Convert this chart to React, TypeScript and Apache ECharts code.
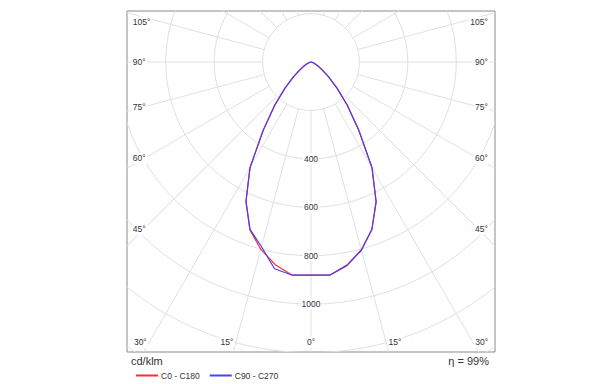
import React, { useEffect, useRef } from "react";
import * as echarts from "echarts";

// Photometric data (cd/klm), gamma angle in degrees from nadir
const gammaAngles = [0, 5, 10, 15, 20, 25, 30, 35, 40, 45, 50, 55, 60, 65, 70, 75, 80, 85, 90];
const c0Values = [880, 884, 852, 803, 735, 637, 505, 345, 235, 152, 95, 57, 35, 22, 14, 8, 4, 2, 0];
const c180Values = [880, 884, 850, 801, 738, 636, 505, 345, 235, 152, 95, 57, 35, 22, 14, 8, 4, 2, 0];
const c90Values = [880, 884, 854, 805, 736, 636, 503, 344, 233, 151, 94, 56, 34, 21, 13, 8, 4, 2, 0];
const c270Values = [880, 884, 867, 790, 736, 635, 503, 344, 233, 151, 94, 56, 34, 21, 13, 8, 4, 2, 0];

const seriesNames = ["C0 - C180", "C90 - C270"];

// Grid definitions
const ringValues = [200, 400, 600, 800, 1000, 1200, 1400];
const ringLabelValues = [400, 600, 800, 1000];
const spokeAngles = Array.from({ length: 24 }, (_, i) => i * 15);
const sideLabelAngles = [105, 90, 75, 60, 45];
const bottomLabelAngles = [30, 15, 0];

const unitLabel = "cd/klm";
const efficiencyLabel = "η = 99%";

const FONT = '"Liberation Sans", Arial, sans-serif';
const RED = "#ff2e2e";
const BLUE = "#4b3ff0";
const GRID_COLOR = "#e0e0e0";
const TEXT_COLOR = "#333333";

const rad = (d: number) => (d * Math.PI) / 180;

function curvePoints(left: number[], right: number[]) {
  const pts: number[][] = [];
  for (let i = gammaAngles.length - 1; i >= 0; i--) {
    const g = rad(gammaAngles[i]);
    pts.push([-left[i] * Math.sin(g), -left[i] * Math.cos(g)]);
  }
  for (let i = 1; i < gammaAngles.length; i++) {
    const g = rad(gammaAngles[i]);
    pts.push([right[i] * Math.sin(g), -right[i] * Math.cos(g)]);
  }
  return pts;
}

type Lbl = { value: number[]; text: string; align: string; dx: number };

function buildLabels(): Lbl[] {
  const out: Lbl[] = [];
  ringLabelValues.forEach((v) => out.push({ value: [0, -v], text: String(v), align: "center", dx: 0 }));
  const sideRefX = 690;
  const leftTextX = 740;
  const rightTextX = 735;
  const maxY = 165;
  sideLabelAngles.forEach((a) => {
    const g = rad(a);
    let y = (-sideRefX * Math.cos(g)) / Math.sin(g);
    y = Math.min(y, maxY);
    out.push({ value: [-leftTextX, y], text: a + "°", align: "left", dx: 0 });
    out.push({ value: [rightTextX, y], text: a + "°", align: "right", dx: 0 });
  });
  const bottomY = -1157;
  bottomLabelAngles.forEach((a) => {
    const x = -bottomY * Math.tan(rad(a));
    if (a === 0) {
      out.push({ value: [0, bottomY], text: a + "°", align: "center", dx: 0 });
    } else {
      out.push({ value: [-x, bottomY], text: a + "°", align: "right", dx: -1.5 });
      out.push({ value: [x, bottomY], text: a + "°", align: "left", dx: 1.5 });
    }
  });
  return out;
}

export default function App() {
  const ref = useRef<HTMLDivElement>(null);
  useEffect(() => {
    if (!ref.current) return;
    const chart = echarts.init(ref.current, null, { renderer: "svg" });
    const labels = buildLabels();
    const option: any = {
      animation: false,
      backgroundColor: "#ffffff",
      grid: {
        left: 127,
        right: 94,
        top: 11,
        bottom: 32,
        show: true,
        borderColor: "#8a8a8a",
        borderWidth: 1,
        backgroundColor: "#ffffff",
      },
      xAxis: { type: "value", min: -760, max: 760, show: false },
      yAxis: { type: "value", min: -1198, max: 211, show: false },
      legend: {
        data: seriesNames,
        left: 131,
        top: 366,
        icon: "rect",
        itemWidth: 22,
        itemHeight: 2,
        itemGap: 10,
        textStyle: { fontSize: 8.5, color: TEXT_COLOR, fontFamily: FONT, padding: [0, 0, 0, -2] },
      },
      graphic: [
        {
          type: "text",
          x: 131,
          y: 361,
          style: { text: unitLabel, fill: TEXT_COLOR, font: `11px ${FONT}`, align: "left", verticalAlign: "middle" },
        },
        {
          type: "text",
          x: 489,
          y: 361,
          style: { text: efficiencyLabel, fill: TEXT_COLOR, font: `11px ${FONT}`, align: "right", verticalAlign: "middle" },
        },
      ],
      series: [
        {
          type: "custom",
          clip: true,
          silent: true,
          z: 1,
          data: ringValues.map((v) => [0, 0, v]),
          renderItem: (_p: any, api: any) => {
            const c = api.coord([0, 0]);
            const r = api.size([api.value(2), 0])[0];
            return {
              type: "circle",
              shape: { cx: c[0], cy: c[1], r },
              style: { fill: "none", stroke: GRID_COLOR, lineWidth: 1 },
            };
          },
        },
        {
          type: "custom",
          clip: true,
          silent: true,
          z: 1,
          data: spokeAngles.map((a) => [0, 0, a]),
          renderItem: (_p: any, api: any) => {
            const g = rad(api.value(2));
            const p1 = api.coord([200 * Math.sin(g), -200 * Math.cos(g)]);
            const p2 = api.coord([3000 * Math.sin(g), -3000 * Math.cos(g)]);
            return {
              type: "line",
              shape: { x1: p1[0], y1: p1[1], x2: p2[0], y2: p2[1] },
              style: { stroke: GRID_COLOR, lineWidth: 1 },
            };
          },
        },
        {
          name: seriesNames[0],
          type: "line",
          data: curvePoints(c180Values, c0Values),
          showSymbol: false,
          symbol: "none",
          color: RED,
          lineStyle: { color: RED, width: 1.2 },
          z: 3,
        },
        {
          name: seriesNames[1],
          type: "line",
          data: curvePoints(c270Values, c90Values),
          showSymbol: false,
          symbol: "none",
          color: BLUE,
          lineStyle: { color: BLUE, width: 1.2 },
          z: 4,
        },
        {
          type: "custom",
          clip: false,
          silent: true,
          z: 5,
          data: labels.map((l) => l.value),
          renderItem: (p: any, api: any) => {
            const l = labels[p.dataIndex];
            const pt = api.coord([api.value(0), api.value(1)]);
            return {
              type: "text",
              x: pt[0] + l.dx,
              y: pt[1],
              style: {
                text: l.text,
                fill: TEXT_COLOR,
                font: `8.5px ${FONT}`,
                align: l.align,
                verticalAlign: "middle",
                backgroundColor: "#ffffff",
                padding: [1, 1],
              },
            };
          },
        },
      ],
    };
    chart.setOption(option);
    return () => chart.dispose();
  }, []);
  return <div ref={ref} style={{ position: "absolute", left: 0, top: 0, width: 589, height: 384 }} />;
}
